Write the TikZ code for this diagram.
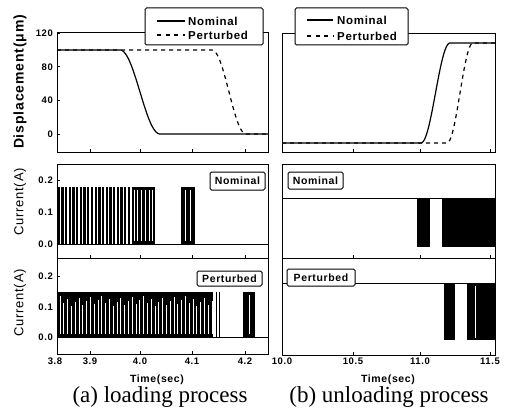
\documentclass[tikz,border=0pt]{standalone}
\usepackage{fontspec}
\setmainfont{Liberation Serif}
\newfontfamily\axf[LetterSpace=6]{Liberation Sans}
\begin{document}
\begin{tikzpicture}[x=1pt,y=-1pt,
  frame/.style={draw=black,line width=0.9pt},
  sig/.style={line width=1.2pt,line join=round},
  dsh/.style={line width=1.2pt,dash pattern=on 4pt off 4pt},
  ytl/.style={anchor=east,inner sep=1pt,font=\axf\bfseries\fontsize{9.5}{10}\selectfont},
  xtl/.style={anchor=north,inner sep=1pt,font=\axf\bfseries\fontsize{9.5}{10}\selectfont},
  legtxt/.style={anchor=west,inner sep=0pt,font=\axf\bfseries\fontsize{11.5}{12}\selectfont},
  lbox/.style={draw,fill=white,line width=1pt,rounded corners=1.5pt},
  tagbox/.style={draw,fill=white,line width=1pt,rounded corners=1.5pt,inner sep=0pt,font=\axf\bfseries\fontsize{10.5}{11}\selectfont},
  ylab/.style={rotate=90,inner sep=0pt},
  wl/.style={draw=white,line width=0.8pt}]
\useasboundingbox (0,0) rectangle (512,412);

% ---------- frames ----------
\draw[frame] (57,32) rectangle (268,152);
\draw[frame] (282,33) rectangle (495,152);
\draw[frame] (57,164) rectangle (268,258);
\draw[frame] (282,164) rectangle (495,258);
\draw[frame] (57,258) rectangle (268,354);
\draw[frame] (282,258) rectangle (495,355);

% ticks
\foreach \y in {33.2,66.8,100.4,134} \draw[line width=0.6pt] (57,\y) -- ++(3,0);
\foreach \y in {180,212,244} \draw[line width=0.6pt] (57,\y) -- ++(3,0);
\foreach \y in {276,307,337} \draw[line width=0.6pt] (57,\y) -- ++(3,0);
\foreach \x in {90,140,192,245} {
  \draw[line width=0.6pt] (\x,152) -- ++(0,-3);
  \draw[line width=0.6pt] (\x,258) -- ++(0,-3);
  \draw[line width=0.6pt] (\x,354) -- ++(0,-3);}
\foreach \x in {353,420,490} {
  \draw[line width=0.6pt] (\x,152) -- ++(0,-3);
  \draw[line width=0.6pt] (\x,258) -- ++(0,-3);
  \draw[line width=0.6pt] (\x,355) -- ++(0,-3);}

% ---------- top-left displacement ----------
\draw[sig] (57,50) -- (120,50) -- plot[domain=0:1,samples=40] ({120+40*\x},{50+84*(1-cos(180*\x))/2}) -- (268,134);
\draw[dsh] (57,50) -- (212,50) -- plot[domain=0:1,samples=40] ({212+34*\x},{50+84*(1-cos(180*\x))/2}) -- (268,134);

% ---------- top-right displacement ----------
\draw[sig] (282,143) -- (421,143) -- plot[domain=0:1,samples=40] ({421+29*\x},{143-100*(1-cos(180*\x))/2}) -- (495,43);
\draw[dsh] (282,143) -- (447,143) -- plot[domain=0:1,samples=40] ({447+26*\x},{143-100*(1-cos(180*\x))/2}) -- (495,43);

% ---------- middle-left current (nominal) ----------
\foreach \i in {0,...,19} \fill (57.5+3.7*\i,187) rectangle ++(2.3,57);
\fill (132,187) rectangle (155,244);
\foreach \x in {134.5,137.5,141,145,149.5,152.5} \draw[wl] (\x,190) -- (\x,241);
\fill (181,187) rectangle (195,244);
\foreach \x in {185.5,190.5} \draw[wl] (\x,190) -- (\x,241);
\draw[line width=1pt] (57,244) -- (268,244);

% ---------- bottom-left current (perturbed) ----------
\fill (57.5,292) rectangle (213,337);
\foreach \i in {0,...,40} \draw[wl,line width=0.7pt] (60+3.8*\i,{296+mod(\i*7,11)}) -- ++(0,{38-mod(\i*7,11)});
\draw[line width=0.9pt] (216,292) -- (216,337);
\draw[line width=0.9pt] (219.5,292) -- (219.5,337);
\fill (243,292) rectangle (255,337);
\draw[wl] (249,295) -- (249,334);
\draw[line width=1pt] (57,337) -- (268,337);

% ---------- middle-right current (nominal) ----------
\draw[line width=0.9pt] (282,198) -- (495,198);
\fill (417,198) rectangle (430,247);
\fill (442,198) rectangle (495,247);

% ---------- bottom-right current (perturbed) ----------
\draw[line width=0.9pt] (282,283) -- (495,283);
\fill (444,283) rectangle (455,340);
\fill (467,283) rectangle (495,340);
\draw[wl] (475,286) -- (475,338);

% ---------- legends ----------
\draw[lbox] (145,8) rectangle (263,45);
\coordinate (la1) at (157,21); \coordinate (la2) at (185,21);
\coordinate (lb1) at (157,35); \coordinate (lb2) at (185,35);
\draw[sig] (la1) -- (la2);
\draw[dsh,dash pattern=on 4pt off 4.5pt] (lb1) -- (lb2);
\node[legtxt] (ln1) at (188,21) {Nominal};
\node[legtxt] (lp1) at (188,35) {Perturbed};

\draw[lbox] (295,8) rectangle (408,45);
\coordinate (ra1) at (307,20); \coordinate (ra2) at (333,20);
\coordinate (rb1) at (307,36); \coordinate (rb2) at (333,36);
\draw[sig] (ra1) -- (ra2);
\draw[dsh,dash pattern=on 4pt off 4.5pt] (rb1) -- (rb2);
\node[legtxt] (rn1) at (337,20) {Nominal};
\node[legtxt] (rp1) at (337,36) {Perturbed};

% panel tags
\node[tagbox,minimum width=55pt,minimum height=18pt] (tg1) at (237.5,181) {Nominal};
\node[tagbox,minimum width=65pt,minimum height=15pt] (tg2) at (229.5,278.5) {Perturbed};
\node[tagbox,minimum width=55pt,minimum height=17pt] (tg3) at (315.5,180.5) {Nominal};
\node[tagbox,minimum width=68pt,minimum height=17pt] (tg4) at (321,277.5) {Perturbed};

% ---------- tick labels ----------
\node[ytl] (y120) at (54,33.2) {120};
\node[ytl] (y80) at (54,66.8) {80};
\node[ytl] (y40) at (54,100.4) {40};
\node[ytl] (y0) at (54,134) {0};
\node[ytl] (m2) at (54,180) {0.2};
\node[ytl] (m1) at (54,212) {0.1};
\node[ytl] (m0) at (54,244) {0.0};
\node[ytl] (b2) at (54,276) {0.2};
\node[ytl] (b1) at (54,307) {0.1};
\node[ytl] (b0) at (54,337) {0.0};

\node[xtl] (x38) at (55,357) {3.8};
\node[xtl] (x39) at (90,357) {3.9};
\node[xtl] (x40) at (140,357) {4.0};
\node[xtl] (x41) at (192,357) {4.1};
\node[xtl] (x42) at (245,357) {4.2};
\node[xtl] (x100) at (282,357) {10.0};
\node[xtl] (x105) at (353,357) {10.5};
\node[xtl] (x110) at (420,357) {11.0};
\node[xtl] (x115) at (490,357) {11.5};

\node[font=\axf\bfseries\fontsize{10.5}{11}\selectfont,inner sep=0pt] (tl) at (157,380) {Time(sec)};
\node[font=\axf\bfseries\fontsize{10.5}{11}\selectfont,inner sep=0pt] (tr) at (388,380) {Time(sec)};

\node[ylab,font=\axf\bfseries\fontsize{14}{15}\selectfont] (yd) at (20,82) {Displacement(μm)};
\node[ylab,font=\axf\fontsize{13}{14}\selectfont] (yc1) at (20,202) {Current(A)};
\node[ylab,font=\axf\fontsize{13}{14}\selectfont] (yc2) at (20,303) {Current(A)};

\node[font=\fontsize{23}{26}\selectfont,inner sep=0pt] (ca) at (160,397) {(a) loading process};
\node[font=\fontsize{23}{26}\selectfont,inner sep=0pt] (cb) at (389,397) {(b) unloading process};
\end{tikzpicture}
\end{document}
